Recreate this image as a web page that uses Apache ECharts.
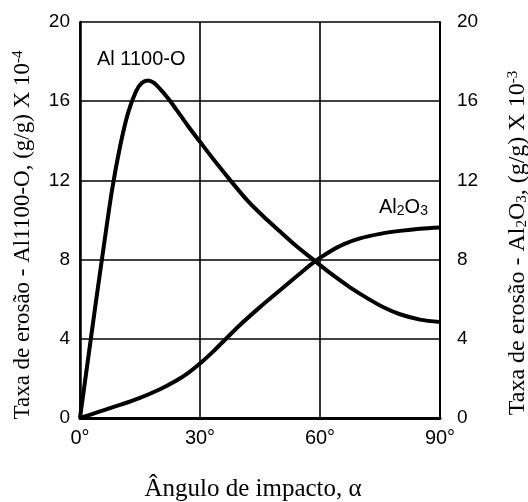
<!DOCTYPE html>
<html><head><meta charset="utf-8">
<script src="https://cdn.jsdelivr.net/npm/echarts@6/dist/echarts.min.js"></script>
<style>html,body{margin:0;padding:0;background:#fff}#c{width:528px;height:502px}</style>
</head><body><div id="c"></div>
<script>
// Angle of impact (degrees), erosion rates
const xTicks = [0, 30, 60, 90];
const yTicks = [0, 4, 8, 12, 16, 20];
// Al 1100-O, (g/g) x 10^-4  (left axis)
const al1100Angle = [0, 2, 4, 6, 8, 10, 12, 14, 15.5, 17, 18.5, 20, 22, 24, 27, 30, 34, 38, 42, 46, 50, 54, 58.8, 63, 67.5, 72, 76, 80, 85, 90];
const al1100Rate  = [0, 2.95, 5.9, 8.75, 11.5, 13.7, 15.4, 16.5, 16.93, 17.05, 16.92, 16.62, 16.15, 15.6, 14.75, 13.95, 12.9, 11.9, 10.95, 10.15, 9.42, 8.7, 7.92, 7.25, 6.6, 6.03, 5.58, 5.24, 4.97, 4.85];
// Al2O3, (g/g) x 10^-3  (right axis)
const al2o3Angle = [0, 5, 10, 15, 20, 24, 27, 30, 33, 36, 40, 45, 50, 55, 58.8, 62, 66, 70, 75, 80, 85, 90];
const al2o3Rate  = [0, 0.33, 0.66, 1.02, 1.45, 1.88, 2.27, 2.75, 3.3, 3.9, 4.7, 5.6, 6.45, 7.3, 7.92, 8.35, 8.78, 9.07, 9.3, 9.45, 9.56, 9.62];

const zip = (a, b) => a.map((v, i) => [v, b[i]]);
const sans = 'Liberation Sans, Arial, sans-serif';
const serif = 'Liberation Serif, Times New Roman, serif';

const chart = echarts.init(document.getElementById('c'), null, {renderer: 'canvas'});
const yAxisBase = {
  type: 'value', min: yTicks[0], max: yTicks[yTicks.length - 1], interval: 4,
  axisTick: {show: false},
  axisLine: {show: true, onZero: false, lineStyle: {color: '#000', width: 2.5}},
  axisLabel: {color: '#000', fontSize: 19, fontFamily: sans}
};
chart.setOption({
  animation: false,
  backgroundColor: '#fff',
  grid: {left: 80, right: 88, top: 22, bottom: 84, containLabel: false},
  xAxis: {
    type: 'value', min: xTicks[0], max: xTicks[xTicks.length - 1], interval: 30,
    axisTick: {show: false},
    axisLine: {show: true, onZero: false, lineStyle: {color: '#000', width: 3}},
    axisLabel: {formatter: '{value}°', color: '#000', fontSize: 20, fontFamily: sans, margin: 10},
    splitLine: {show: true, lineStyle: {color: '#000', width: 1.6}}
  },
  yAxis: [
    Object.assign({}, yAxisBase, {position: 'left',
      axisLabel: Object.assign({}, yAxisBase.axisLabel, {margin: 10}),
      splitLine: {show: true, lineStyle: {color: '#000', width: 1.6}}}),
    Object.assign({}, yAxisBase, {position: 'right',
      axisLine: {show: true, onZero: false, lineStyle: {color: '#000', width: 2}},
      axisLabel: Object.assign({}, yAxisBase.axisLabel, {margin: 17}),
      splitLine: {show: false}})
  ],
  series: [
    {name: 'Al 1100-O', type: 'line', yAxisIndex: 0, data: zip(al1100Angle, al1100Rate),
     smooth: 0.3, showSymbol: false, lineStyle: {color: '#000', width: 4}},
    {name: 'Al2O3', type: 'line', yAxisIndex: 1, data: zip(al2o3Angle, al2o3Rate),
     smooth: 0.3, showSymbol: false, lineStyle: {color: '#000', width: 4}}
  ],
  graphic: [
    {type: 'text', left: 97, top: 49, style: {text: 'Al 1100-O', font: '20px ' + sans, fill: '#000'}},
    {type: 'text', left: 379, top: 197, style: {text: 'Al{s|2}O{s|3}', font: '20px ' + sans, fill: '#000',
      rich: {s: {fontSize: 14, fontFamily: sans, verticalAlign: 'bottom', padding: [8, 0, 0, 0]}}}},
    {type: 'text', x: 23, y: 235, rotation: Math.PI / 2,
      style: {text: 'Taxa de erosão - Al1100-O, (g/g) X 10{p|-4}', font: '23px ' + serif, fill: '#000',
        align: 'center', verticalAlign: 'middle',
        rich: {p: {fontSize: 15, fontFamily: serif, padding: [0, 0, 10, 0]}}}},
    {type: 'text', x: 518, y: 243, rotation: Math.PI / 2,
      style: {text: 'Taxa de erosão - Al{b|2}O{b|3}, (g/g) X 10{p|-3}', font: '24px ' + serif, fill: '#000',
        align: 'center', verticalAlign: 'middle',
        rich: {p: {fontSize: 15, fontFamily: serif, padding: [0, 0, 10, 0]},
               b: {fontSize: 15, fontFamily: serif, padding: [8, 0, 0, 0]}}}},
    {type: 'text', x: 253, y: 489,
      style: {text: 'Ângulo de impacto, α', font: '25px ' + serif, fill: '#000', align: 'center', verticalAlign: 'middle'}}
  ]
});
</script></body></html>
